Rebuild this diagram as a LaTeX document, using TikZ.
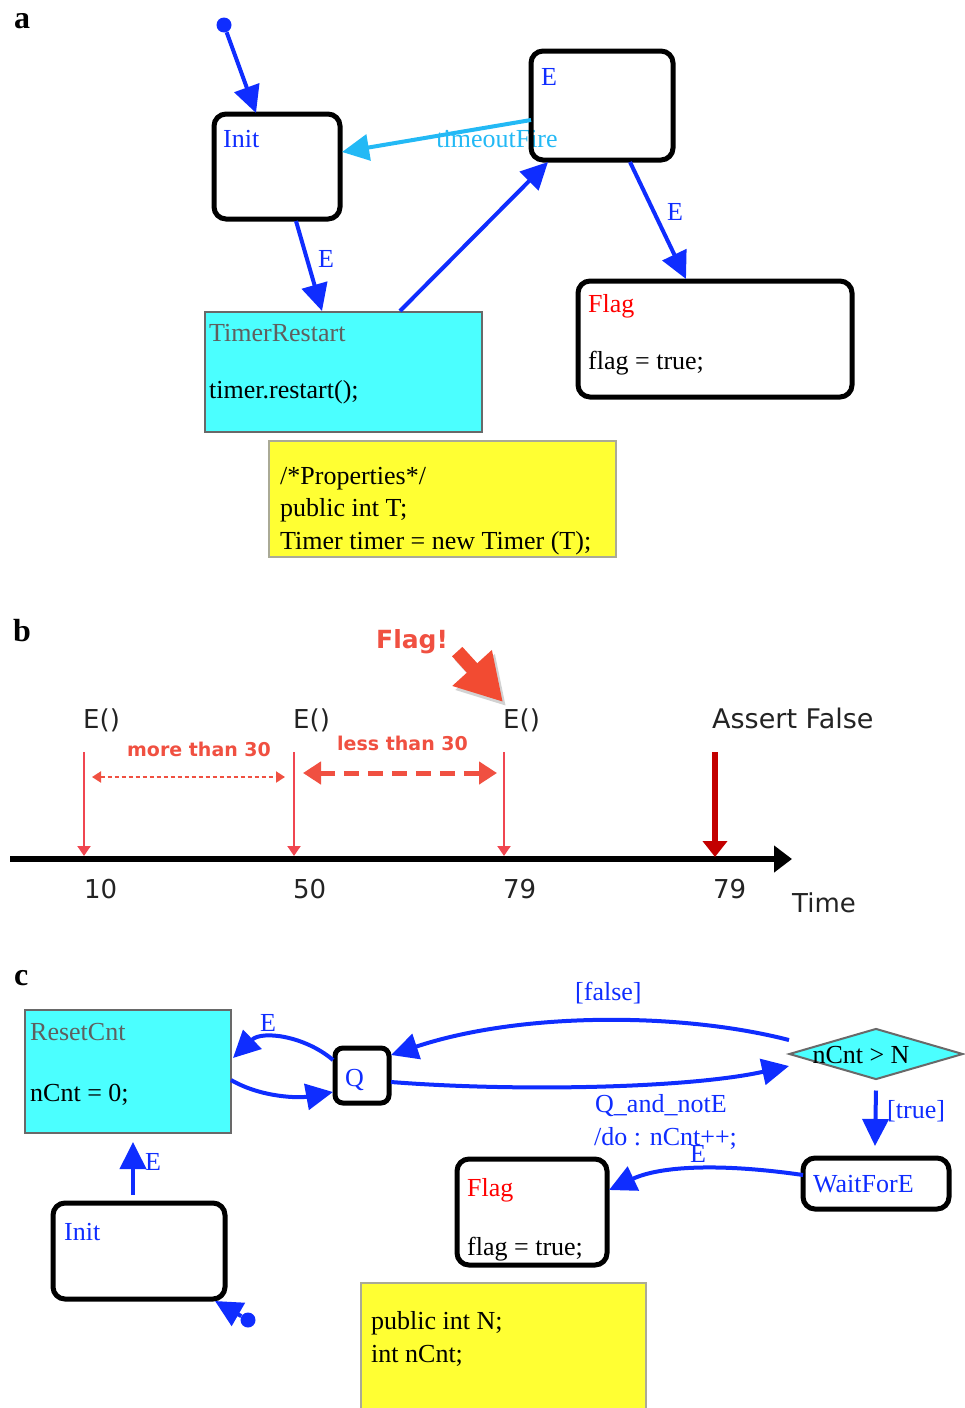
\documentclass[tikz,border=0pt]{standalone}
\usepackage{fontspec}
\setmainfont{Liberation Serif}
\newfontfamily\lucida{DejaVu Sans}
\usetikzlibrary{arrows.meta,shapes.geometric,calc}
\definecolor{sblue}{RGB}{15,45,255}
\definecolor{lblue}{RGB}{35,185,245}
\definecolor{cyanf}{RGB}{75,255,255}
\definecolor{gbord}{RGB}{105,105,105}
\definecolor{gtext}{RGB}{95,95,95}
\definecolor{yelf}{RGB}{255,255,51}
\definecolor{ybord}{RGB}{170,170,150}
\definecolor{tred}{RGB}{240,70,80}
\definecolor{lred}{RGB}{240,80,65}
\definecolor{dred}{RGB}{195,0,0}
\definecolor{ored}{RGB}{242,75,50}
\definecolor{sgray}{RGB}{35,35,35}
\newcommand\setfs[1]{\fontsize{#1}{#1}\selectfont}
\tikzset{
  statebox/.style={draw=black, line width=5pt, rounded corners=12pt, anchor=north west, inner sep=0pt, outer sep=0pt},
  actbox/.style={draw=gbord, line width=2.5pt, fill=cyanf, anchor=north west, inner sep=0pt, outer sep=0pt},
  notebox/.style={draw=ybord, line width=1.5pt, fill=yelf, anchor=north west, inner sep=0pt, outer sep=0pt},
  tr/.style={draw=sblue, line width=4pt, -{Triangle[length=27pt,width=26pt]}},
  txt/.style={font=\setfs{26}, anchor=base west, inner sep=0pt},
  stxt/.style={font=\lucida\setfs{26}, anchor=base west, inner sep=0pt, text=sgray},
  rtxt/.style={font=\lucida\bfseries\setfs{19}, anchor=base west, inner sep=0pt, text=lred},
  panel/.style={font=\bfseries\setfs{32}, anchor=base west, inner sep=0pt},
  initdot/.style={circle, fill=sblue, minimum size=15pt, inner sep=0pt},
  evarrow/.style={draw=tred, line width=2pt, -{Triangle[length=10pt,width=13pt]}},
}
\begin{document}
\begin{tikzpicture}[x=1pt,y=-1pt]
\useasboundingbox (0,0) rectangle (965,1408);
% ---------------- panel a ----------------
\node[panel] (la) at (14,28) {a};
\node[initdot] (dotA) at (224,25) {};
\node[statebox, minimum width=126pt, minimum height=105pt] (initA) at (214,114) {};
\node[txt, text=sblue] (initAt) at (223,147) {Init};
\node[txt, text=lblue, anchor=base] (toF) at (497,147) {timeoutFire};
\node[statebox, minimum width=142pt, minimum height=109pt] (eA) at (531,51) {};
\node[txt, text=sblue] (eAt) at (541,85) {E};
\node[actbox, minimum width=277pt, minimum height=120pt] (trA) at (205,312) {};
\node[txt, text=gtext] (trAt) at (209,341) {TimerRestart};
\node[txt] (trAc) at (209,398) {timer.restart();};
\node[statebox, minimum width=274pt, minimum height=116pt] (flagA) at (578,281) {};
\node[txt, text=red] (flagAt) at (588,312) {Flag};
\node[txt] (flagAc) at (588,369) {flag = true;};
\node[notebox, minimum width=347pt, minimum height=116pt] (noteA) at (269,441) {};
\node[txt] (noteA1) at (280,484) {/*Properties*/};
\node[txt] (noteA2) at (280,516) {public int T;};
\node[txt] (noteA3) at (280,549) {Timer timer = new Timer (T);};
\draw[tr] (dotA) -- ($(initA.north west)+(42,-1)$);
\draw[tr, draw=lblue] ($(eA.north west)+(0,69)$) -- ($(initA.north east)+(2,38)$);
\draw[tr] ($(initA.south west)+(82,2)$) -- ($(trA.north west)+(117,-1)$);
\node[txt, text=sblue] (eA1) at (318,267) {E};
\draw[tr] ($(trA.north west)+(195,-1)$) -- ($(eA.south west)+(17,2)$);
\draw[tr] ($(eA.south west)+(99,2)$) -- ($(flagA.north west)+(108,-2)$);
\node[txt, text=sblue] (eA2) at (667,220) {E};
% ---------------- panel b ----------------
\node[panel] (lb) at (13,641) {b};
\coordinate (axL) at (10,859);
\coordinate (axR) at (792,859);
\draw[line width=6pt, -{Triangle[length=18pt,width=26pt]}] (axL) -- (axR);
\node[stxt] (ev1) at (83,728) {E()};
\node[stxt] (ev2) at (293,728) {E()};
\node[stxt] (ev3) at (503,728) {E()};
\node[stxt, font=\lucida\setfs{27}] (asf) at (712,728) {Assert False};
\coordinate (t1a) at (84,752); \coordinate (t1b) at (84,856);
\coordinate (t2a) at (294,752); \coordinate (t2b) at (294,856);
\coordinate (t3a) at (504,752); \coordinate (t3b) at (504,856);
\coordinate (t4a) at (715,752); \coordinate (t4b) at (715,857);
\draw[evarrow] (t1a) -- (t1b);
\draw[evarrow] (t2a) -- (t2b);
\draw[evarrow] (t3a) -- (t3b);
\draw[draw=dred, line width=6pt, -{Triangle[length=16pt,width=24pt]}] (t4a) -- (t4b);
\node[stxt] (n1) at (84,898) {10};
\node[stxt] (n2) at (293,898) {50};
\node[stxt] (n3) at (503,898) {79};
\node[stxt] (n4) at (713,898) {79};
\node[stxt] (tm) at (792,912) {Time};
\node[rtxt] (more) at (127,756) {more than 30};
\node[rtxt] (less) at (337,750) {less than 30};
\coordinate (m1) at (92,777); \coordinate (m2) at (285,777);
\draw[lred, line width=2pt, dash pattern=on 4pt off 3pt, {Triangle[length=9pt,width=11pt]}-{Triangle[length=9pt,width=11pt]}] (m1) -- (m2);
\coordinate (l1) at (303,773); \coordinate (l2) at (497,773);
\draw[lred, line width=5pt, dash pattern=on 15pt off 9pt, {Triangle[length=18pt,width=22pt]}-{Triangle[length=18pt,width=22pt]}] (l1) -- (l2);
\node[font=\lucida\bfseries\setfs{25}, text=lred, anchor=base west, inner sep=0pt] (flagB) at (376,648) {Flag!};
\coordinate (fbTip) at (503,702);
\coordinate (fbShTip) at (506,706);
\draw[black!35, opacity=0.5, line width=14pt, -{Triangle[length=46pt,width=50pt]}] ($(flagB.south east)+(12,2)$) -- (fbShTip);
\draw[ored, line width=14pt, -{Triangle[length=46pt,width=50pt]}] ($(flagB.south east)+(9,-2)$) -- (fbTip);
% ---------------- panel c ----------------
\node[panel] (lc) at (14,985) {c};
\node[actbox, minimum width=206pt, minimum height=123pt] (rc) at (25,1010) {};
\node[txt, text=gtext] (rct) at (30,1040) {ResetCnt};
\node[txt] (rcc) at (30,1101) {nCnt = 0;};
\node[statebox, rounded corners=8pt, minimum width=54pt, minimum height=55pt] (q) at (335,1048) {};
\node[txt, text=sblue] (qt) at (345,1086) {Q};
\node[diamond, draw=gbord, fill=cyanf, line width=2pt, minimum width=174pt, minimum height=51pt, inner sep=0pt] (dec) at (876,1054) {};
\node[txt, anchor=base] (dect) at (861,1063) {nCnt > N};
\node[statebox, minimum width=146pt, minimum height=51pt] (wait) at (803,1158) {};
\node[txt, text=sblue] (waitt) at (813,1192) {WaitForE};
\node[statebox, minimum width=150pt, minimum height=106pt] (flagC) at (457,1159) {};
\node[txt, text=red] (flagCt) at (467,1196) {Flag};
\node[txt] (flagCc) at (467,1255) {flag = true;};
\node[notebox, minimum width=285pt, minimum height=135pt] (noteC) at (361,1283) {};
\node[txt] (noteC1) at (371,1329) {public int N;};
\node[txt] (noteC2) at (371,1362) {int nCnt;};
\node[statebox, minimum width=172pt, minimum height=96pt] (initC) at (53,1203) {};
\node[txt, text=sblue] (initCt) at (64,1240) {Init};
\node[initdot] (dotC) at (248,1320) {};
\draw[tr] ($(q.north west)+(-2,12)$) .. controls (305,1036) and (262,1030) .. ($(rc.north east)+(2,48)$);
\node[txt, text=sblue] (eQ) at (260,1031) {E};
\draw[tr] ($(rc.north east)+(0,70)$) .. controls (262,1098) and (300,1098) .. ($(q.north west)+(-2,44)$);
\draw[tr] ($(q.north east)+(2,34)$) .. controls (520,1092) and (690,1088) .. ($(dec.west)+(1,12)$);
\node[txt, text=sblue] (qn1) at (595,1112) {Q\_and\_notE};
\node[txt, text=sblue] (qn2) at (594,1145) {/do : nCnt++;};
\draw[tr] ($(dec.west)+(1,-14)$) .. controls (680,1012) and (520,1012) .. ($(q.north east)+(2,7)$);
\node[txt, text=sblue] (fl) at (575,1000) {[false]};
\draw[tr] ($(dec.south)+(0,10)$) -- ($(wait.north)+(-1,-12)$);
\node[txt, text=sblue] (tl) at (887,1118) {[true]};
\draw[tr] ($(wait.north west)+(0,17)$) .. controls (720,1163) and (660,1166) .. ($(flagC.north east)+(2,31)$);
\node[txt, text=sblue] (eW) at (690,1162) {E};
\draw[tr] ($(initC.north west)+(80,-8)$) -- ($(rc.south west)+(108,9)$);
\node[txt, text=sblue] (eI) at (145,1170) {E};
\draw[tr] (dotC) -- ($(initC.south east)+(-10,2)$);
\end{tikzpicture}
\end{document}
